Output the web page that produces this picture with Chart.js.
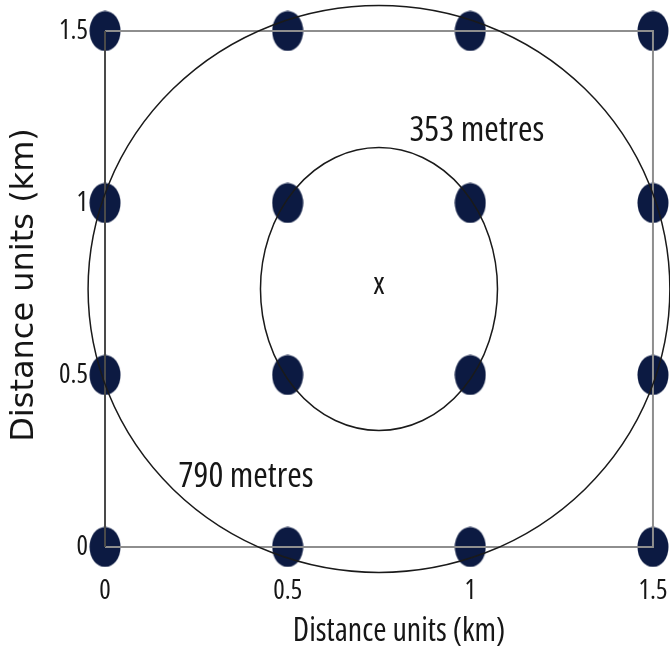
<!DOCTYPE html>
<html>
<head>
<meta charset="utf-8">
<script src="https://cdn.jsdelivr.net/npm/chart.js@4"></script>
<style>
  html, body { margin: 0; padding: 0; background: #ffffff; overflow: hidden; }
  #wrap { width: 670px; height: 661px; overflow: hidden; }
  #c { display: block; }
</style>
</head>
<body>
<div id="wrap"><canvas id="c" width="706" height="661"></canvas></div>
<script>
// Axis ticks (km)
const tickValues = [0, 0.5, 1, 1.5];
const tickLabels = ['0', '0.5', '1', '1.5'];

// Sampling stations on the 0.5 km grid
const stations = [
  [0, 0], [0.5, 0], [1, 0], [1.5, 0],
  [0, 0.5], [0.5, 0.5], [1, 0.5], [1.5, 0.5],
  [0, 1], [0.5, 1], [1, 1], [1.5, 1],
  [0, 1.5], [0.5, 1.5], [1, 1.5], [1.5, 1.5]
];

// Study area boundary: western edge and the remaining three sides
const westEdge = [[0, 0], [0, 1.5]];
const otherEdges = [[0, 1.5], [1.5, 1.5], [1.5, 0], [0, 0]];

// Centre point and distance rings (km)
const centre = [0.75, 0.75];
const centreLabel = 'x';
const ringRadiiKm = [0.353, 0.79];
const ringLabels = ['353 metres', '790 metres'];

// Drawing styles
const CONDENSED = '"Open Sans", "Liberation Sans", Arial, sans-serif';
const INK = '#161616';
const STATION_COLOUR = '#0c1a42';
const ringShape = [ { sx: 0.919, sy: 1.165 }, { sx: 1.008, sy: 1.043 } ];
const ringLabelAt = [ [1.018, 1.209], [0.386, 0.2035] ];

// Elliptical station marker
const marker = document.createElement('canvas');
marker.width = 32; marker.height = 41;
(function () {
  const m = marker.getContext('2d');
  m.fillStyle = STATION_COLOUR;
  m.beginPath();
  m.ellipse(16, 20.5, 15.5, 20, 0, 0, Math.PI * 2);
  m.fill();
})();

const toXY = pts => pts.map(p => ({ x: p[0], y: p[1] }));

const ringsPlugin = {
  id: 'rings',
  afterDatasetsDraw(chart) {
    const { ctx, scales: { x, y } } = chart;
    const cx = x.getPixelForValue(centre[0]);
    const cy = y.getPixelForValue(centre[1]);
    ctx.save();
    ctx.strokeStyle = '#1a1a1a';
    ctx.lineWidth = 1.5;
    ringRadiiKm.forEach((r, i) => {
      const rx = Math.abs(x.getPixelForValue(centre[0] + r * ringShape[i].sx) - cx);
      const ry = Math.abs(y.getPixelForValue(centre[1] + r * ringShape[i].sy) - cy);
      ctx.beginPath();
      ctx.ellipse(cx, cy, rx, ry, 0, 0, Math.PI * 2);
      ctx.stroke();
    });
    ctx.fillStyle = INK;
    ctx.textAlign = 'center';
    ctx.textBaseline = 'middle';
    ctx.font = 'condensed 35px ' + CONDENSED;
    ringLabels.forEach((t, i) => {
      ctx.fillText(t, x.getPixelForValue(ringLabelAt[i][0]), y.getPixelForValue(ringLabelAt[i][1]));
    });
    ctx.font = 'condensed 31px ' + CONDENSED;
    ctx.fillText(centreLabel, cx, cy - 4);
    ctx.restore();
  }
};

const setTicks = scale => { scale.ticks = tickValues.map(v => ({ value: v })); };
const tickText = (v, i) => tickLabels[i];
const noEdgePadding = s => { s.paddingLeft = 0; s.paddingRight = 0; s.paddingTop = 0; s.paddingBottom = 0; };

new Chart(document.getElementById('c'), {
  type: 'scatter',
  data: {
    datasets: [
      { data: toXY(westEdge), showLine: true, borderColor: '#4a4a4a', borderWidth: 2, pointRadius: 0, clip: false },
      { data: toXY(otherEdges), showLine: true, borderColor: '#8e8e8e', borderWidth: 2, pointRadius: 0, clip: false },
      { data: toXY(stations), pointStyle: marker, pointRadius: 16, clip: false }
    ]
  },
  options: {
    responsive: false,
    animation: false,
    devicePixelRatio: 1,
    layout: { padding: 0, autoPadding: false },
    plugins: { legend: { display: false }, tooltip: { enabled: false } },
    scales: {
      x: {
        type: 'linear',
        min: -0.0356, max: 1.6452,
        grid: { display: false, drawTicks: false },
        border: { display: false },
        afterBuildTicks: setTicks,
        afterFit: s => { noEdgePadding(s); s.height = 91; },
        ticks: { callback: tickText, autoSkip: false, maxRotation: 0, padding: 5, color: INK,
                 font: { family: CONDENSED, weight: 'condensed', size: 27 } },
        title: { display: true, text: 'Distance units (km)', color: INK,
                 font: { family: CONDENSED, weight: 'condensed', size: 32 }, padding: { top: 0, bottom: 10 } }
      },
      y: {
        type: 'linear',
        min: -0.06686, max: 1.5901,
        grid: { display: false, drawTicks: false },
        border: { display: false },
        afterBuildTicks: setTicks,
        afterFit: s => { noEdgePadding(s); s.width = 92; },
        ticks: { callback: tickText, autoSkip: false, padding: 4, color: INK,
                 font: { family: CONDENSED, weight: 'condensed', size: 27 } },
        title: { display: true, text: 'Distance units (km)', color: INK,
                 font: { family: '"DejaVu Sans", sans-serif', size: 32 }, padding: { top: 5, bottom: 0 } }
      }
    }
  },
  plugins: [ringsPlugin]
});
</script>
</body>
</html>
